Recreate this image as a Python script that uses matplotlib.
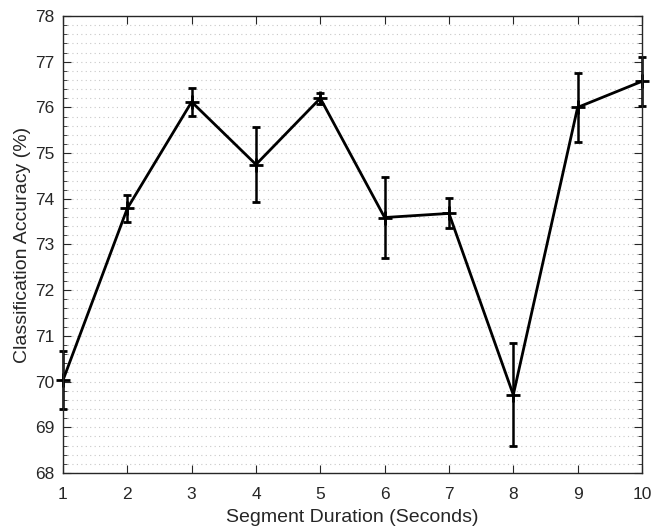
import matplotlib
matplotlib.use("Agg")
import matplotlib.pyplot as plt
from matplotlib.ticker import MultipleLocator

plt.rcParams['font.family'] = ['Liberation Sans', 'DejaVu Sans']

durations = [1, 2, 3, 4, 5, 6, 7, 8, 9, 10]
accuracy = [70.03, 73.79, 76.12, 74.75, 76.20, 73.59, 73.68, 69.71, 76.00, 76.57]
errors = [0.64, 0.30, 0.30, 0.82, 0.12, 0.89, 0.33, 1.13, 0.76, 0.53]
yticks = [68, 69, 70, 71, 72, 73, 74, 75, 76, 77, 78]

fig = plt.figure(figsize=(6.52, 5.26), dpi=100)
ax = fig.add_axes([0.0966, 0.1008, 0.888, 0.8688])

lines = ax.errorbar(durations, accuracy, yerr=errors, color='black', linewidth=2,
                    marker='+', markersize=10, markeredgewidth=2, capsize=3,
                    capthick=1.8, elinewidth=1.8)
for artist in lines.get_children():
    artist.set_clip_on(False)

ax.set_xlim(1, 10)
ax.set_ylim(68, 78)
ax.set_xticks(durations)
ax.set_yticks(yticks)
ax.yaxis.set_minor_locator(MultipleLocator(0.2))

ax.grid(axis='y', which='both', linestyle=(0, (1, 3)), color='#c8c8c8', linewidth=0.8)
ax.set_axisbelow(True)

axcol = '#262626'
for s in ax.spines.values():
    s.set_color(axcol)
    s.set_linewidth(1.0)
ax.tick_params(which='both', direction='in', top=True, right=True, colors=axcol,
               labelsize=12.5, labelcolor='#262626')
ax.tick_params(which='major', length=6)
ax.tick_params(which='minor', length=3)
ax.tick_params(axis='x', pad=10)
ax.tick_params(axis='y', pad=6)

ax.set_xlabel('Segment Duration (Seconds)', fontsize=14, color='#262626', labelpad=5)
ax.set_ylabel('Classification Accuracy (%)', fontsize=14, color='#262626', labelpad=3)

fig.savefig('out.png', dpi=100)
